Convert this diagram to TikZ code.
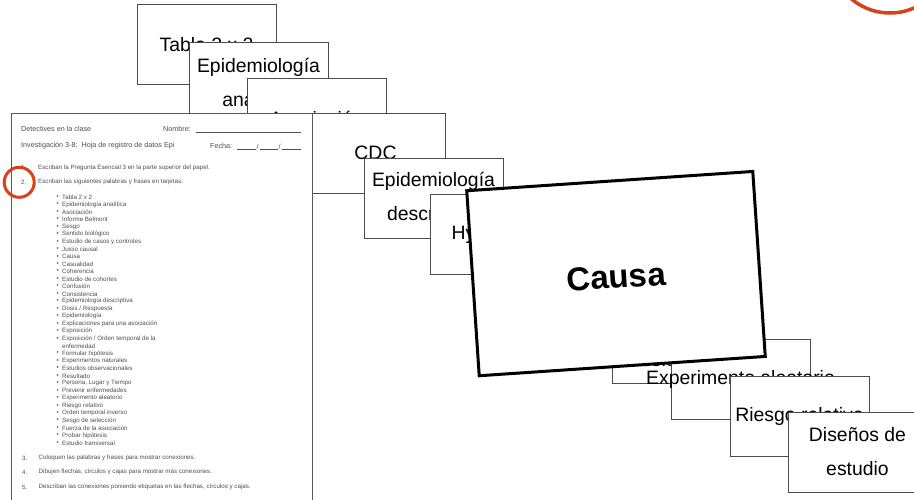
\documentclass[tikz,border=0pt]{standalone}
\usepackage{fontspec}
\setmainfont{Liberation Sans}
\definecolor{ringred}{HTML}{D9411A}
\definecolor{scangray}{HTML}{4F4F4F}
\begin{document}
\begin{tikzpicture}[x=1pt,y=-1pt]
      \tikzset{card/.style={draw=black!70, line width=0.9pt, fill=white, inner sep=0pt,
                 minimum width=139pt, minimum height=80pt, align=center,
                 font=\fontsize{19.4}{34}\selectfont},
               sheettext/.style={anchor=west, inner sep=0pt, text=scangray, font=\fontsize{6.2}{7}\selectfont},
               headtext/.style={sheettext, font=\fontsize{7.2}{8}\selectfont},
               ring/.style={draw=ringred, circle, inner sep=0pt}}
      \useasboundingbox (0,0) rectangle (914,499);
      \clip (0,0) rectangle (914,499);
%% Cards under the sheet
      	\node[card] (tabla) at (206.5,44.5) {Tabla 2 x 2};
      	\node[card] (analitica) at (258.5,82) {Epidemiología\\analítica};
      	\node[card] (asociacion) at (316.5,118) {Asociación};
      	\node[card] (cdc) at (375.5,153) {CDC};
%% Worksheet
      	\node[draw=black!65, line width=0.8pt, fill=white, anchor=north west,
      	      minimum width=301pt, minimum height=420pt] (sheet) at (10.7,113) {};
      	\node[headtext] (clase) at (21,129) {Detectives en la clase};
      	\node[headtext] (nombre) at (163,129) {Nombre:};
      	\node[headtext] (invest) at (21,146) {Investigación 3-8:\ \ Hoja de registro de datos Epi};
      	\node[headtext] (fecha) at (210,146) {Fecha:};
      	\draw[scangray, line width=0.5pt] (196,132) -- (301,132);
      	\draw[scangray, line width=0.5pt] (237,149) -- (256,149) (260,149) -- (278,149) (282,149) -- (301,149);
      	\node[headtext] (slasha) at (256.5,147) {/};
      	\node[headtext] (slashb) at (278.5,147) {/};
      	\node[sheettext] (n1) at (21,167) {1.};
      	\node[sheettext] (s1) at (38,167.5) {Escriban la Pregunta Esencial 3 en la parte superior del papel.};
      	\node[sheettext] (n2) at (21,182) {2.};
      	\node[sheettext] (s2) at (38,182) {Escriban las siguientes palabras y frases en tarjetas:};
      	\foreach \entry [count=\i from 0] in {Tabla 2 x 2, Epidemiología analítica, Asociación,
      	      Informe Belmont, Sesgo, Sentido biológico, Estudio de casos y controles, Juicio causal,
      	      Causa, Casualidad, Coherencia, Estudio de cohortes, Confusión, Consistencia,
      	      Epidemiología descriptiva, Dosis / Respuesta, Epidemiología,
      	      Explicaciones para una asociación, Exposición, Exposición / Orden temporal de la}
      	   {\node[sheettext] (b\i) at (56.5,{197+7.45*\i}) {\textbullet};
      	    \node[sheettext] (w\i) at (62,{197+7.45*\i}) {\entry};}
      	\node[sheettext] (w20) at (62,{197+7.45*20}) {enfermedad};
      	\foreach \entry [count=\i from 21] in {Formular hipótesis, Experimentos naturales,
      	      Estudios observacionales, Resultado, {Persona, Lugar y Tiempo}, Prevenir enfermedades,
      	      Experimento aleatorio, Riesgo relativo, Orden temporal inverso, Sesgo de selección,
      	      Fuerza de la asociación, Probar hipótesis, Estudio transversal}
      	   {\node[sheettext] (b\i) at (56.5,{197+7.45*\i}) {\textbullet};
      	    \node[sheettext] (w\i) at (62,{197+7.45*\i}) {\entry};}
      	\node[sheettext] (n3) at (22,458) {3.};
      	\node[sheettext] (s3) at (38.5,458) {Coloquen las palabras y frases para mostrar conexiones.};
      	\node[sheettext] (n4) at (22,472) {4.};
      	\node[sheettext] (s4) at (38.5,472) {Dibujen flechas, círculos y cajas para mostrar más conexiones.};
      	\node[sheettext] (n5) at (22,487) {5.};
      	\node[sheettext] (s5) at (38.5,487) {Describan las conexiones poniendo etiquetas en las flechas, círculos y cajas.};
%% Cards over the sheet
      	\node[card] (descriptiva) at (433.5,198) {Epidemiología\\descriptiva};
      	\node[card] (hipotesis) at (499.5,234) {Hypothesis};
      	\node[card] (sesgo) at (681.5,343) {Sesgo de\\selección};
      	\node[card] (experimento) at (740.5,379) {\makebox[0pt]{Experimento aleatorio}};
      	\node[card] (riesgo) at (799.5,416) {Riesgo relativo};
      	\node[card] (disenos) at (857.5,452) {Diseños de\\estudio};
%Picked card
      	\node[card, draw=black, line width=3pt, rotate=3.86, minimum width=286.7pt, minimum height=185.4pt,
      	      font=\fontsize{33}{36}\selectfont\bfseries] (causa) at (616,273.6) {\rule{0pt}{29.5pt}Causa};
%Rings
      	\node[ring, line width=3pt, minimum size=30pt] (ringsheet) at (19.2,182.3) {};
      	\node[ring, line width=3.5pt, minimum size=120pt] (ringcorner) at (890,-47) {};
\end{tikzpicture}
\end{document}
